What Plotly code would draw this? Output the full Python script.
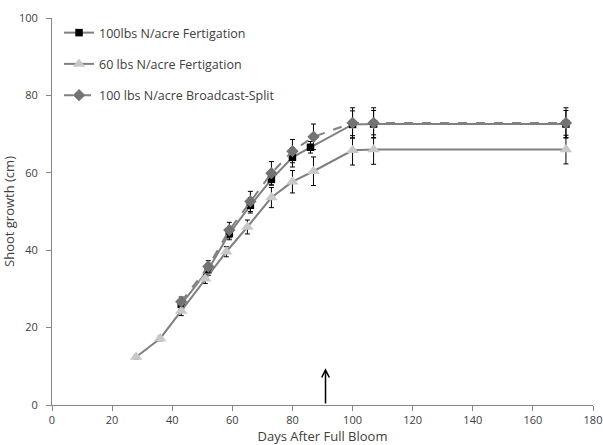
import plotly.graph_objects as go

# Days after full bloom for each sampling date
days_fert100 = [43, 52, 59, 66, 73, 80, 86, 100, 107, 171]
days_fert60 = [28, 36, 43, 51, 58, 65, 73, 80, 87, 100, 107, 171]
days_split100 = [43, 52, 59, 66, 73, 80, 87, 100, 107, 171]

# Mean shoot growth (cm)
growth_fert100 = [26.0, 35.0, 44.3, 51.6, 58.3, 64.0, 66.6, 72.5, 72.6, 72.6]
growth_fert60 = [12.4, 17.2, 24.3, 32.6, 39.6, 46.0, 53.6, 57.7, 60.4, 65.8, 66.0, 66.0]
growth_split100 = [26.7, 35.8, 45.2, 52.6, 59.9, 65.6, 69.3, 72.9, 72.9, 72.9]

# Standard errors (cm)
err_fert100 = [1.2, 1.5, 1.6, 2.0, 1.5, 2.5, 1.5, 3.5, 3.5, 3.5]
err_fert60 = [0.5, 0.6, 1.2, 1.2, 1.3, 1.8, 2.6, 2.9, 3.7, 3.8, 3.8, 3.7]
err_split100 = [1.2, 1.5, 2.0, 2.6, 3.0, 3.0, 3.3, 3.9, 3.9, 3.9]

series_names = ["100lbs N/acre Fertigation", "60 lbs N/acre Fertigation",
                "100 lbs N/acre Broadcast-Split"]

# Date of the arrow marking an event on the time axis
arrow_day = 91
arrow_top = 9.5

line_gray = "#808080"
font_family = "Open Sans, sans-serif"
text_color = "#404040"

fig = go.Figure()


def err(vals):
    return dict(type="data", array=vals, visible=True, color="black",
                thickness=1, width=2.5)


fig.add_trace(go.Scatter(
    x=days_fert100, y=growth_fert100, name=series_names[0], legendgroup="a",
    mode="lines+markers", line=dict(color=line_gray, width=2),
    marker=dict(symbol="square", size=7.5, color="black"),
    error_y=err(err_fert100)))
fig.add_trace(go.Scatter(
    x=days_fert60, y=growth_fert60, name=series_names[1], legendgroup="b",
    mode="lines+markers", line=dict(color=line_gray, width=2),
    marker=dict(symbol="triangle-up", size=11, color="#c8c8c8"),
    error_y=err(err_fert60)))
fig.add_trace(go.Scatter(
    x=days_split100, y=growth_split100, name=series_names[2], legendgroup="c",
    mode="lines+markers", line=dict(color=line_gray, width=2, dash="dash"),
    marker=dict(symbol="diamond", size=9.5, color="#737373"),
    error_y=err(err_split100)))

fig.add_annotation(
    x=arrow_day, y=arrow_top, ax=arrow_day, ay=0, xref="x", yref="y",
    axref="x", ayref="y", text="", showarrow=True, arrowhead=5,
    arrowsize=1, arrowwidth=1.5, arrowcolor="black")

axis_common = dict(
    showgrid=False, zeroline=False, showline=True, linecolor="#868686",
    linewidth=1, ticks="outside", tickcolor="#868686", ticklen=5,
    automargin=False,
    tickfont=dict(family=font_family, size=11, color=text_color),
)

title_font = dict(family=font_family, size=13, color=text_color)

fig.update_layout(
    width=603, height=445,
    margin=dict(l=52, r=10, t=18, b=40),
    paper_bgcolor="white", plot_bgcolor="white",
    font=dict(family=font_family, color=text_color),
    xaxis=dict(range=[0, 180], dtick=20,
               title=dict(text="Days After Full Bloom", font=title_font),
               **axis_common),
    yaxis=dict(range=[0, 100], dtick=20, ticklabelstandoff=6,
               title=dict(text="Shoot growth (cm)", font=title_font),
               **axis_common),
    legend=dict(x=0.013, y=1.0, xanchor="left", yanchor="top",
                bgcolor="rgba(0,0,0,0)", tracegroupgap=12, itemwidth=30,
                font=dict(family=font_family, size=12.5, color=text_color)),
    showlegend=True,
)

fig.write_html("out.html")
